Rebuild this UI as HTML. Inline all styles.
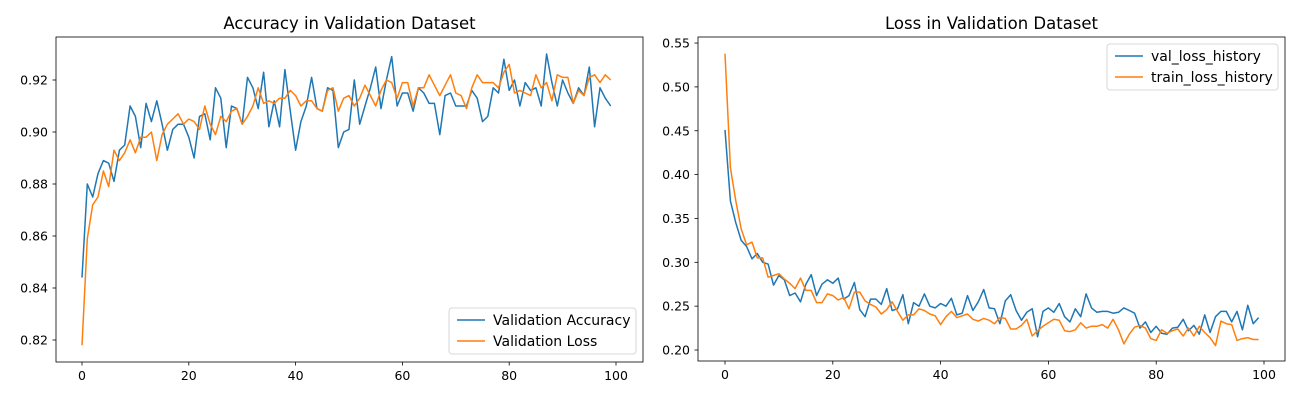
<!DOCTYPE html>
<html><head><meta charset="utf-8"><style>
body{margin:0;background:#fff;}
svg text{font-family:"DejaVu Sans","Liberation Sans",sans-serif;fill:#000;}
</style></head><body>
<svg id="s" width="1300" height="400" xmlns="http://www.w3.org/2000/svg"></svg>
<script>
const epochs = Array.from({length:100},(_,i)=>i);
const valAcc = [0.844,0.880,0.875,0.884,0.889,0.888,0.881,0.893,0.895,0.910,0.906,0.894,0.911,0.904,0.912,0.903,0.893,0.901,0.903,0.903,0.898,0.890,0.906,0.907,0.897,0.917,0.913,0.894,0.910,0.909,0.903,0.921,0.917,0.909,0.923,0.902,0.912,0.902,0.924,0.908,0.893,0.904,0.910,0.921,0.909,0.908,0.917,0.916,0.894,0.900,0.901,0.920,0.903,0.910,0.917,0.925,0.909,0.920,0.929,0.910,0.915,0.915,0.908,0.917,0.915,0.911,0.911,0.899,0.914,0.915,0.910,0.910,0.910,0.916,0.913,0.904,0.906,0.917,0.915,0.928,0.916,0.920,0.910,0.919,0.916,0.917,0.910,0.930,0.919,0.910,0.920,0.915,0.911,0.917,0.914,0.925,0.902,0.917,0.913,0.910];
const valLossAcc = [0.818,0.859,0.872,0.875,0.885,0.879,0.893,0.889,0.892,0.897,0.892,0.898,0.898,0.900,0.889,0.899,0.903,0.905,0.907,0.903,0.905,0.904,0.901,0.910,0.903,0.899,0.906,0.904,0.908,0.909,0.903,0.906,0.910,0.917,0.911,0.912,0.911,0.913,0.913,0.916,0.914,0.910,0.912,0.912,0.909,0.908,0.916,0.917,0.908,0.913,0.914,0.910,0.913,0.918,0.914,0.910,0.916,0.920,0.919,0.913,0.919,0.919,0.910,0.917,0.917,0.922,0.918,0.914,0.918,0.922,0.915,0.914,0.909,0.917,0.922,0.919,0.919,0.919,0.917,0.923,0.926,0.915,0.916,0.915,0.914,0.922,0.917,0.919,0.912,0.922,0.921,0.921,0.911,0.916,0.914,0.921,0.922,0.919,0.922,0.920];
const valLoss = [0.451,0.370,0.345,0.325,0.318,0.304,0.310,0.300,0.298,0.274,0.285,0.280,0.262,0.265,0.255,0.275,0.286,0.262,0.275,0.280,0.276,0.282,0.258,0.262,0.277,0.246,0.238,0.258,0.258,0.252,0.270,0.245,0.247,0.263,0.230,0.254,0.250,0.264,0.250,0.248,0.253,0.250,0.259,0.240,0.242,0.262,0.245,0.255,0.269,0.248,0.247,0.230,0.256,0.263,0.245,0.234,0.243,0.247,0.215,0.244,0.248,0.243,0.253,0.238,0.232,0.247,0.238,0.264,0.248,0.243,0.244,0.244,0.242,0.243,0.248,0.245,0.242,0.225,0.232,0.220,0.227,0.219,0.218,0.225,0.226,0.235,0.222,0.228,0.218,0.240,0.220,0.238,0.244,0.244,0.232,0.244,0.223,0.251,0.230,0.237];
const trainLoss = [0.538,0.408,0.370,0.338,0.320,0.323,0.305,0.305,0.283,0.285,0.287,0.281,0.276,0.270,0.282,0.268,0.268,0.254,0.254,0.264,0.262,0.257,0.260,0.247,0.266,0.266,0.256,0.252,0.249,0.241,0.246,0.255,0.244,0.234,0.240,0.240,0.247,0.245,0.241,0.239,0.229,0.238,0.244,0.237,0.239,0.241,0.235,0.233,0.236,0.234,0.230,0.237,0.236,0.224,0.224,0.228,0.235,0.216,0.222,0.227,0.231,0.235,0.234,0.222,0.221,0.223,0.231,0.225,0.227,0.227,0.229,0.225,0.235,0.223,0.207,0.218,0.226,0.228,0.225,0.213,0.211,0.223,0.219,0.222,0.224,0.216,0.225,0.216,0.227,0.220,0.214,0.205,0.233,0.230,0.229,0.211,0.213,0.214,0.212,0.212];
const xTicks = [0,20,40,60,80,100];
const accTicks = [0.82,0.84,0.86,0.88,0.90,0.92];
const lossTicks = [0.20,0.25,0.30,0.35,0.40,0.45,0.50,0.55];

const NS="http://www.w3.org/2000/svg", svg=document.getElementById('s');
function mk(tag,attrs,parent){const e=document.createElementNS(NS,tag);for(const k in attrs)e.setAttribute(k,attrs[k]);(parent||svg).appendChild(e);return e;}

function panel(cfg){
  const g=mk('g',{});
  
  
  const xs=v=>cfg.x0+v*cfg.xk, ys=v=>cfg.yRef-(v-cfg.vRef)*cfg.yk;
  cfg.series.forEach(s=>{
    const p=mk('polyline',{points:s.data.map((v,i)=>xs(epochs[i]).toFixed(1)+','+ys(v).toFixed(1)).join(' '),fill:'none',stroke:s.color,'stroke-width':1.5,'stroke-linejoin':'round'},g);
    
    
  });
  const r=mk('rect',{x:cfg.L,y:cfg.T,width:cfg.R-cfg.L,height:cfg.B-cfg.T,fill:'none',stroke:'#000','stroke-width':0.8},g);
  
  
  xTicks.forEach(t=>{
    const x=xs(t);
    mk('line',{x1:x,x2:x,y1:cfg.B,y2:cfg.B+3.5,stroke:'#000','stroke-width':0.8},g);
    const tx=mk('text',{x:x,y:cfg.B+18,'text-anchor':'middle','font-size':12.5},g);tx.textContent=t;
    
    
  });
  cfg.yTicks.forEach(t=>{
    const y=ys(t);
    mk('line',{x1:cfg.L-3.5,x2:cfg.L,y1:y,y2:y,stroke:'#000','stroke-width':0.8},g);
    const tx=mk('text',{x:cfg.L-8,y:y+4.5,'text-anchor':'end','font-size':12.5},g);tx.textContent=t.toFixed(2);
    
    
  });
  const ti=mk('text',{x:(cfg.L+cfg.R)/2,y:29,'text-anchor':'middle','font-size':16.5},g);ti.textContent=cfg.title;
  
  
  const lg=mk('g',{},g);
  
  
  mk('rect',{x:cfg.lx,y:cfg.ly,width:cfg.lw,height:46,rx:3,fill:'#fff','fill-opacity':0.8,stroke:'#ccc','stroke-width':0.8},lg);
  cfg.series.forEach((s,i)=>{
    const y=cfg.ly+12+i*21;
    mk('line',{x1:cfg.lx+8,x2:cfg.lx+36,y1:y,y2:y,stroke:s.color,'stroke-width':1.5},lg);
    const t=mk('text',{x:cfg.lx+44,y:y+5,'font-size':14},lg);t.textContent=s.label;
    
    
  });
}
panel({name:'accuracy-chart',L:56,R:643,T:37,B:362,x0:82,xk:5.34,yRef:340,vRef:0.82,yk:2600,yTicks:accTicks,title:'Accuracy in Validation Dataset',
  lx:449,ly:308,lw:187,
  series:[{id:'validation-accuracy-line',data:valAcc,color:'#1f77b4',label:'Validation Accuracy'},{id:'validation-loss-line',data:valLossAcc,color:'#ff7f0e',label:'Validation Loss'}]});
panel({name:'loss-chart',L:698,R:1285,T:37,B:361,x0:725,xk:5.39,yRef:350,vRef:0.20,yk:877,yTicks:lossTicks,title:'Loss in Validation Dataset',
  lx:1107,ly:44,lw:171,
  series:[{id:'val-loss-line',data:valLoss,color:'#1f77b4',label:'val_loss_history'},{id:'train-loss-line',data:trainLoss,color:'#ff7f0e',label:'train_loss_history'}]});
</script>
</body></html>
